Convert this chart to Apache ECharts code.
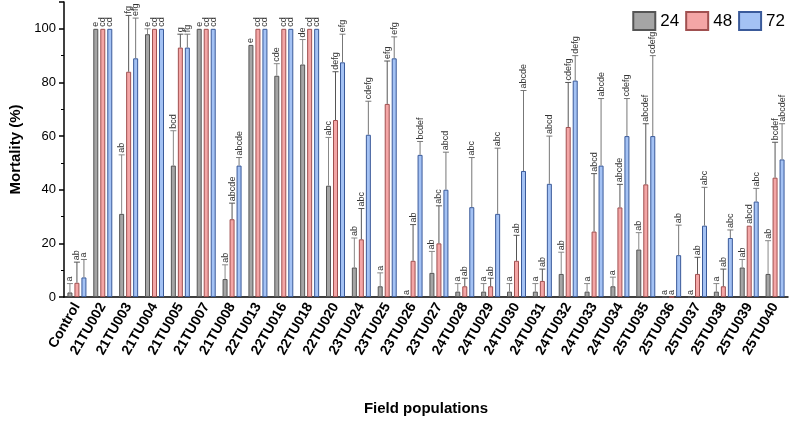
<!DOCTYPE html>
<html><head><meta charset="utf-8">
<script src="https://cdn.jsdelivr.net/npm/echarts@6/dist/echarts.min.js"></script>
<style>body{margin:0}#main{width:800px;height:421px}</style>
</head><body><div id="main"></div>
<script>
var categories = ['Control','21TU002','21TU003','21TU004','21TU005','21TU007','21TU008','22TU013','22TU016','22TU018','22TU020','23TU024','23TU025','23TU026','23TU027','24TU028','24TU029','24TU030','24TU031','24TU032','24TU033','24TU034','25TU035','25TU036','25TU037','25TU038','25TU039','25TU040'];
var v24 = [1.7,100,31,98,49,100,6.7,94,82.5,86.7,41.5,11,4,0,9,2,2,2,2,8.6,2,4,17.7,0,0,2,11,8.6];
var v48 = [5.3,100,84,100,93,100,29,100,100,100,66,21.5,72,13.5,20,4,4,13.5,6,63.4,24.4,33.4,42,0,8.6,4,26.6,44.5];
var v72 = [7.3,100,89,100,93,100,49,100,100,100,87.5,60.5,89,53,40,33.5,31,47,42.2,80.7,49,60,60,15.6,26.6,22,35.6,51.3];
var e24 = [5,100,53,100,62,100,12,94,87,96,59.5,22,9,0,17,5,5,5,5,16.7,5,7.4,24,0,0,5,14,21];
var e48 = [13,100,105,100,98,100,35,100,100,100,84,33,88,27,34,7,7,23,10.4,80,46,42,64.6,0,14.8,10.4,26.6,57.7];
var e72 = [14,100,104,100,98,100,52,100,100,100,98,73,97,58,54,52,55.5,77,60,90,74,74,90,26.8,40.9,25,40.5,64.6];
var l24 = ['a','e','ab','e','bcd','e','ab','e','cde','de','abc','ab','a','a','ab','a','a','a','a','ab','a','a','ab','a','a','a','ab','ab'];
var l48 = ['ab','cd','fg','cd','g','cd','abcde','cd','cd','cd','defg','abc','efg','ab','abc','ab','ab','ab','ab','cdefg','abcd','abcde','abcdef','a','ab','ab','abcd','bcdef'];
var l72 = ['a','cd','efg','cd','fg','cd','abcde','cd','cd','cd','efg','cdefg','efg','bcdef','abcd','abc','abc','abcde','abcd','defg','abcde','cdefg','cdefg','ab','abc','abc','abc','abcdef'];

var chart = echarts.init(document.getElementById('main'));
function errSeries(vals, errs, labels, offset, color) {
  var data = categories.map(function (c, i) { return [i, vals[i], errs[i], labels[i]]; });
  return {
    type: 'custom', z: 5,
    data: data,
    renderItem: function (params, api) {
      var base = api.coord([api.value(0), api.value(1)]);
      var top = api.coord([api.value(0), api.value(2)]);
      var x = base[0] + offset;
      var ch = [];
      if (top[1] < base[1] - 0.5) {
        ch.push({type: 'line', shape: {x1: x, y1: base[1], x2: x, y2: top[1]}, style: {stroke: color, lineWidth: 1}});
        ch.push({type: 'line', shape: {x1: x - 3, y1: top[1], x2: x + 3, y2: top[1]}, style: {stroke: color, lineWidth: 1}});
      }
      ch.push({type: 'text', x: x, y: top[1] - 2, rotation: Math.PI / 2,
        style: {text: api.value(3), fill: '#333', font: '9px Arial', align: 'left', verticalAlign: 'middle'}});
      return {type: 'group', children: ch};
    }
  };
}
function bar(name, vals, fill, border) {
  return {name: name, type: 'bar', data: vals, barWidth: 5, barGap: '40%',
    itemStyle: {color: fill, borderColor: border, borderWidth: 1}};
}
chart.setOption({
  animation: false,
  grid: {left: 64, right: 12, top: 2, bottom: 117},
  legend: {
    data: ['24','48','72'], right: 10, top: 6, itemWidth: 22, itemHeight: 18, itemGap: 6,
    icon: 'rect',
    textStyle: {fontSize: 17, fontFamily: 'Arial', color: '#000'}
  },
  xAxis: {
    type: 'category', data: categories, name: 'Field populations', nameLocation: 'middle', nameGap: 104,
    nameTextStyle: {fontSize: 15, fontWeight: 'bold', fontFamily: 'Arial', color: '#000'},
    axisLine: {lineStyle: {color: '#000', width: 1.5}},
    axisTick: {alignWithLabel: true, length: 5, lineStyle: {color: '#000', width: 1.5}},
    axisLabel: {rotate: 60, interval: 0, fontSize: 14, fontWeight: 'bold', fontFamily: 'Arial', color: '#000', margin: 7}
  },
  yAxis: {
    type: 'value', min: 0, max: 110, interval: 20, name: 'Mortality (%)', nameLocation: 'middle', nameGap: 36,
    nameTextStyle: {fontSize: 15, fontWeight: 'bold', fontFamily: 'Arial', color: '#000'},
    axisLine: {show: true, lineStyle: {color: '#000', width: 1.5}},
    axisTick: {show: true, length: 5, lineStyle: {color: '#000', width: 1.5}},
    minorTick: {show: true, splitNumber: 2, length: 3, lineStyle: {color: '#000'}},
    splitLine: {show: false},
    axisLabel: {fontSize: 13, fontFamily: 'Arial', color: '#000',
      formatter: function (v) { return v > 100 ? '' : v; }}
  },
  series: [
    bar('24', v24, '#a5a5a5', '#555'),
    bar('48', v48, '#f4a6a6', '#a05050'),
    bar('72', v72, '#a4c2f4', '#3a5a9a'),
    errSeries(v24, e24, l24, -7, '#888'),
    errSeries(v48, e48, l48, 0, '#555'),
    errSeries(v72, e72, l72, 7, '#777')
  ]
});
</script></body></html>
